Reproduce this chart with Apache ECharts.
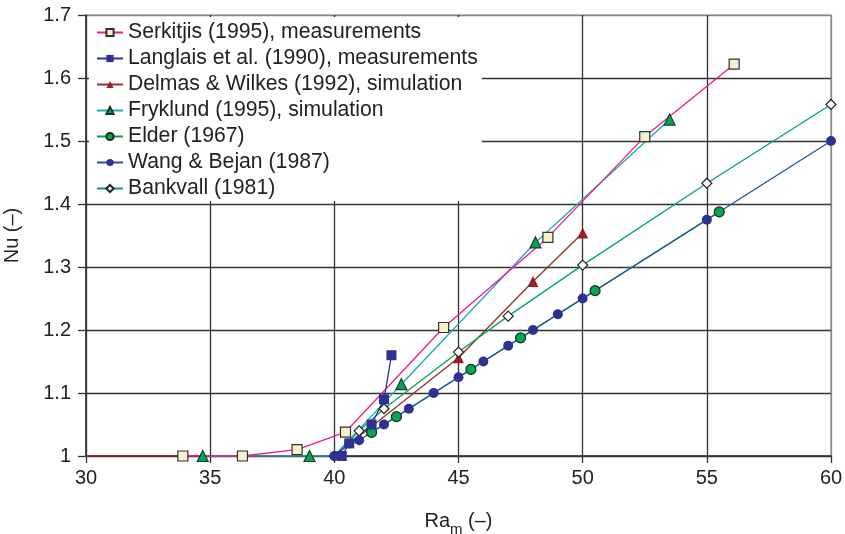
<!DOCTYPE html>
<html>
<head>
<meta charset="utf-8">
<script src="https://cdn.jsdelivr.net/npm/echarts@6/dist/echarts.min.js"></script>
<style>
  html, body { margin: 0; padding: 0; background: #fff; }
  #chart-container { width: 845px; height: 534px; }
</style>
</head>
<body>
<div id="chart-container"></div>
<script>
// 数据 [Ra_m, Nu]
var serkitjis = [[33.9, 1.0], [36.3, 1.0], [38.5, 1.01], [40.45, 1.038], [44.4, 1.204], [48.6, 1.347], [52.5, 1.507], [56.1, 1.622]];
var langlais = [[40.3, 1.0], [40.6, 1.02], [41.5, 1.05], [42.0, 1.09], [42.3, 1.16]];
var delmas = [[30, 1.0], [40, 1.0], [45, 1.156], [48, 1.277], [50, 1.354]];
var fryklund = [[34.7, 1.0], [39, 1.0], [40, 1.0], [42.7, 1.114], [48.1, 1.339], [53.5, 1.534]];
var elder = [[41.5, 1.0375], [42.5, 1.0625], [45.5, 1.1375], [47.5, 1.1875], [50.5, 1.2625], [55.5, 1.3875]];
var wangBejan = [[40, 1.0], [40.6, 1.02], [41, 1.025], [42, 1.05], [43, 1.075], [44, 1.1], [45, 1.125], [46, 1.15], [47, 1.175], [48, 1.2], [49, 1.225], [50, 1.25], [55, 1.375], [60, 1.5]];
var bankvall = [[40, 1.0], [41, 1.04], [42, 1.075], [45, 1.165], [47, 1.222], [50, 1.303], [55, 1.433], [60, 1.558]];

var seriesNames = [
    'Serkitjis (1995), measurements',
    'Langlais et al. (1990), measurements',
    'Delmas & Wilkes (1992), simulation',
    'Fryklund (1995), simulation',
    'Elder (1967)',
    'Wang & Bejan (1987)',
    'Bankvall (1981)'
];

var font = '"Liberation Sans", Arial, Helvetica, sans-serif';

// 隐藏个别点的标记
function hideFirst(data, idx) {
    return data.map(function (p, i) {
        return idx.indexOf(i) >= 0 ? { value: p, symbol: 'none' } : p;
    });
}

function lineSeries(name, data, lineColor, symbol, size, fill, border) {
    return {
        name: name,
        type: 'line',
        data: data,
        symbol: symbol,
        symbolSize: size,
        showSymbol: true,
        lineStyle: { color: lineColor, width: 1.3 },
        itemStyle: {
            color: fill,
            borderColor: border || fill,
            borderWidth: border ? 1.2 : 0
        },
        emphasis: { disabled: true },
        z: 2
    };
}

var myChart = echarts.init(document.getElementById('chart-container'));

myChart.setOption({
    animation: false,
    textStyle: { fontFamily: font },
    grid: {
        left: 86, right: 14, top: 15, bottom: 78,
        outerBoundsMode: 'none',
        containLabel: false,
        show: true, borderColor: '#888', borderWidth: 1.2
    },
    legend: {
        orient: 'vertical',
        left: 89, top: 17,
        backgroundColor: '#fff',
        padding: [5, 4, 2, 7],
        itemWidth: 26, itemHeight: 9,
        itemGap: 5,
        textStyle: { fontSize: 21.2, color: '#222', lineHeight: 21, fontFamily: font },
        data: seriesNames
    },
    xAxis: {
        type: 'value',
        min: 30, max: 60, interval: 5,
        name: '{a|Ra}{b|m}{a| (–)}',
        nameLocation: 'middle',
        nameGap: 51,
        nameTextStyle: {
            rich: {
                a: { fontSize: 20, color: '#222', fontFamily: font, lineHeight: 24, verticalAlign: 'bottom' },
                b: { fontSize: 15, color: '#222', fontFamily: font, lineHeight: 24, verticalAlign: 'bottom', padding: [0, 0, -6, 0] }
            }
        },
        axisLine: { lineStyle: { color: '#333', width: 1.5 } },
        axisTick: { show: true, length: 7, lineStyle: { color: '#333', width: 1.3 } },
        axisLabel: { fontSize: 20, color: '#222', margin: 12 },
        splitLine: { show: true, lineStyle: { color: ['#333', '#333', '#333', '#333', '#333', '#333', '#888'], width: 1.3 } }
    },
    yAxis: {
        type: 'value',
        min: 1, max: 1.7, interval: 0.1,
        name: 'Nu (–)',
        nameLocation: 'middle',
        nameGap: 64,
        nameTextStyle: { fontSize: 20, color: '#222' },
        axisLine: { show: true, lineStyle: { color: '#333', width: 1.5 } },
        axisTick: { show: true, length: 8, lineStyle: { color: '#333', width: 1.3 } },
        axisLabel: { fontSize: 20, color: '#222', margin: 15 },
        splitLine: { show: true, lineStyle: { color: ['#333', '#333', '#333', '#333', '#333', '#333', '#333', '#888'], width: 1.3 } }
    },
    series: [
        lineSeries(seriesNames[2], hideFirst(delmas, [0, 1]), '#9b2d30', 'triangle', 11, '#9b1f22'),
        lineSeries(seriesNames[3], hideFirst(fryklund, [2]), '#1fa7b8', 'triangle', 11, '#00a651', '#1a3a2a'),
        lineSeries(seriesNames[6], bankvall, '#00a859', 'diamond', 10, '#ffffff', '#222'),
        lineSeries(seriesNames[4], elder, '#00a651', 'circle', 10, '#00a651', '#1a2a1a'),
        lineSeries(seriesNames[5], wangBejan, '#24519f', 'circle', 10, '#2e3192'),
        lineSeries(seriesNames[0], serkitjis, '#ec1c8c', 'rect', 10, '#f4f1cb', '#333'),
        lineSeries(seriesNames[1], langlais, '#2e3192', 'rect', 10, '#2e3192')
    ]
});
</script>
</body>
</html>
